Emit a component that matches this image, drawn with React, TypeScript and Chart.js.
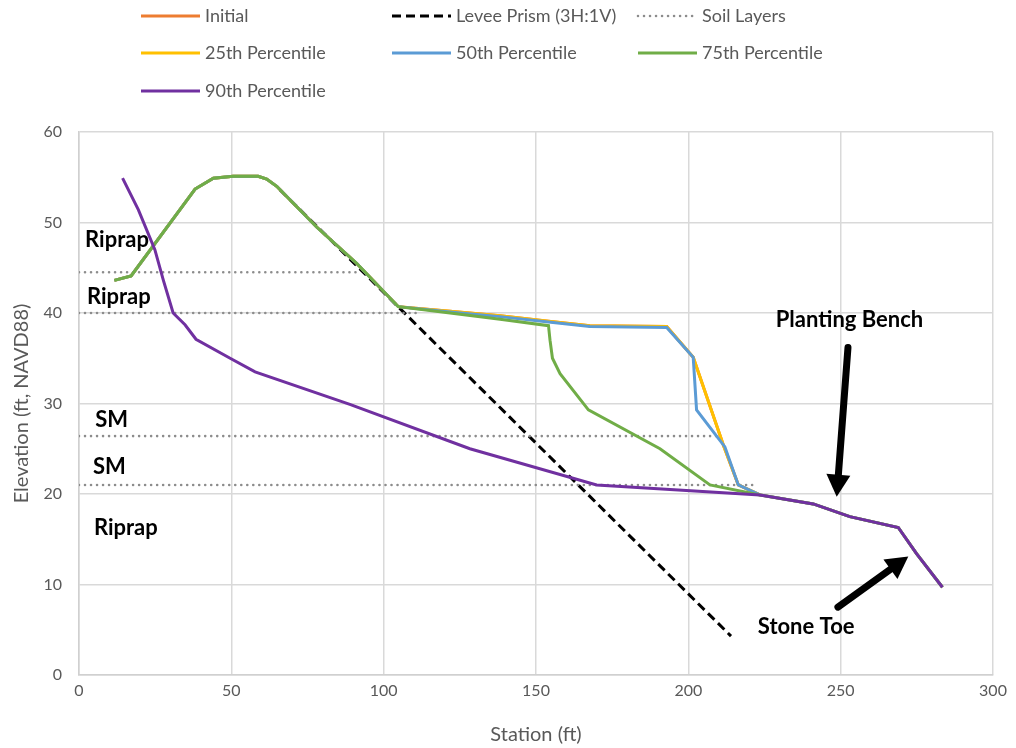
import React, { useEffect, useRef } from "react";
import { Chart, registerables } from "chart.js";

Chart.register(...registerables);

// ---------- Data ----------
const initialStation = [11.6, 17.1, 38.1, 44.1, 50.6, 58.8, 61.6, 64.9, 78.0, 91.1, 104.8, 121.8, 138.2, 154.1, 167.7, 192.9, 201.6, 211.6, 216.4, 223.5];
const initialElev = [43.6, 44.1, 53.7, 54.9, 55.1, 55.1, 54.8, 54.0, 49.5, 45.5, 40.7, 40.2, 39.7, 39.1, 38.6, 38.5, 35.1, 25.3, 21.0, 19.9];

const leveeStation = [66.0, 214.0];
const leveeElev = [53.6, 4.3];

const soilStartStation = [0, 0, 0, 0];
const soilEndStation = [91.1, 110.8, 209.6, 221.3];
const soilElev = [44.5, 40.0, 26.4, 21.0];

const p25Station = [11.6, 17.1, 38.1, 44.1, 50.6, 58.8, 61.6, 64.9, 78.0, 91.1, 104.8, 121.8, 138.2, 154.1, 167.7, 192.9, 201.6, 211.6, 216.4, 223.5, 241.0, 253.0, 268.9, 274.9, 283.4];
const p25Elev = [43.6, 44.1, 53.7, 54.9, 55.1, 55.1, 54.8, 54.0, 49.5, 45.5, 40.7, 40.2, 39.7, 39.1, 38.6, 38.5, 35.1, 25.3, 21.0, 19.9, 18.9, 17.5, 16.3, 13.4, 9.7];

const p50Station = [11.6, 17.1, 38.1, 44.1, 50.6, 58.8, 61.6, 64.9, 78.0, 91.1, 104.8, 121.8, 138.2, 154.1, 167.7, 192.9, 201.6, 202.7, 212.0, 216.4, 223.5, 241.0, 253.0, 268.9, 274.9, 283.4];
const p50Elev = [43.6, 44.1, 53.7, 54.9, 55.1, 55.1, 54.8, 54.0, 49.5, 45.5, 40.7, 40.1, 39.6, 39.0, 38.5, 38.4, 35.1, 29.3, 25.2, 21.0, 19.9, 18.9, 17.5, 16.3, 13.4, 9.7];

const p75Station = [11.6, 17.1, 38.1, 44.1, 50.6, 58.8, 61.6, 64.9, 78.0, 91.1, 104.8, 121.8, 138.2, 154.1, 154.6, 155.4, 157.9, 167.2, 190.7, 207.1, 223.5, 241.0, 253.0, 268.9, 274.9, 283.4];
const p75Elev = [43.6, 44.1, 53.7, 54.9, 55.1, 55.1, 54.8, 54.0, 49.5, 45.5, 40.7, 40.0, 39.3, 38.6, 37.0, 35.0, 33.3, 29.3, 25.0, 21.0, 19.9, 18.9, 17.5, 16.3, 13.4, 9.7];

const p90Station = [14.3, 19.5, 24.9, 27.7, 30.9, 34.8, 38.4, 49.6, 57.8, 88.9, 128.3, 169.9, 223.5, 241.0, 253.0, 268.9, 274.9, 283.4];
const p90Elev = [54.9, 51.4, 47.0, 43.6, 40.0, 38.7, 37.1, 35.0, 33.5, 29.9, 25.0, 21.0, 19.9, 18.9, 17.5, 16.3, 13.4, 9.7];

const seriesLabels = ["Initial", "Levee Prism (3H:1V)", "Soil Layers", "25th Percentile", "50th Percentile", "75th Percentile", "90th Percentile"];
const seriesColors = ["#ED7D31", "#000000", "#8C8C8C", "#FFC000", "#5B9BD5", "#70AD47", "#7030A0"];

const xTicks = [0, 50, 100, 150, 200, 250, 300];
const yTicks = [0, 10, 20, 30, 40, 50, 60];

// Text annotations (station, elevation)
const noteTexts = ["Riprap", "Riprap", "SM", "SM", "Riprap", "Planting Bench", "Stone Toe"];
const noteStation = [2.0, 2.6, 5.3, 4.6, 4.9, 228.7, 222.8];
const noteElev = [48.1, 41.8, 28.2, 23.0, 16.2, 39.2, 5.3];

// Arrows: tail -> tip (station, elevation)
const arrowTailStation = [252.4, 249.1];
const arrowTailElev = [36.2, 7.5];
const arrowTipStation = [248.7, 272.2];
const arrowTipElev = [19.7, 13.1];

const FONT = "Lato, 'Open Sans', sans-serif";
const TEXT_GRAY = "#595959";

const pts = (xs: number[], ys: number[]) => xs.map((x, i) => ({ x, y: ys[i] }));

function soilPoints() {
  const out: { x: number; y: number | null }[] = [];
  soilElev.forEach((e, i) => {
    out.push({ x: soilStartStation[i], y: e });
    out.push({ x: soilEndStation[i], y: e });
    out.push({ x: soilEndStation[i], y: null });
  });
  return out;
}

const legendPlugin = {
  id: "customLegend",
  afterDraw(chart: any) {
    const ctx = chart.ctx;
    const colX = [141, 392, 638];
    const rowY = [16, 53, 91];
    ctx.save();
    chart.data.datasets.forEach((ds: any, i: number) => {
      const col = i % 3;
      const row = Math.floor(i / 3);
      const x = colX[col];
      const y = rowY[row];
      ctx.beginPath();
      ctx.strokeStyle = ds.borderColor;
      ctx.lineWidth = ds.borderWidth;
      ctx.lineCap = ds.borderCapStyle || "butt";
      ctx.setLineDash(ds.borderDash || []);
      ctx.moveTo(x, y);
      ctx.lineTo(x + 59, y);
      ctx.stroke();
      ctx.setLineDash([]);
      ctx.fillStyle = TEXT_GRAY;
      ctx.font = `18px ${FONT}`;
      ctx.textBaseline = "middle";
      ctx.textAlign = "left";
      ctx.fillText(ds.label, x + 64, y);
    });
    ctx.restore();
  },
};

function drawArrow(ctx: CanvasRenderingContext2D, x1: number, y1: number, x2: number, y2: number) {
  const dx = x2 - x1;
  const dy = y2 - y1;
  const len = Math.hypot(dx, dy);
  const ux = dx / len;
  const uy = dy / len;
  const headLen = 22;
  const headHalf = 12;
  const bx = x2 - ux * headLen;
  const by = y2 - uy * headLen;
  ctx.beginPath();
  ctx.strokeStyle = "#000";
  ctx.lineWidth = 7;
  ctx.lineCap = "round";
  ctx.moveTo(x1, y1);
  ctx.lineTo(bx + ux * 2, by + uy * 2);
  ctx.stroke();
  ctx.beginPath();
  ctx.fillStyle = "#000";
  ctx.moveTo(x2, y2);
  ctx.lineTo(bx - uy * headHalf, by + ux * headHalf);
  ctx.lineTo(bx + uy * headHalf, by - ux * headHalf);
  ctx.closePath();
  ctx.fill();
}

const annotationPlugin = {
  id: "notes",
  afterDatasetsDraw(chart: any) {
    const ctx = chart.ctx;
    const xs = chart.scales.x;
    const ys = chart.scales.y;
    ctx.save();
    ctx.fillStyle = "#000";
    ctx.font = `bold 22px ${FONT}`;
    ctx.textBaseline = "middle";
    ctx.textAlign = "left";
    noteTexts.forEach((t, i) => {
      ctx.fillText(t, xs.getPixelForValue(noteStation[i]), ys.getPixelForValue(noteElev[i]));
    });
    arrowTailStation.forEach((_, i) => {
      drawArrow(
        ctx,
        xs.getPixelForValue(arrowTailStation[i]),
        ys.getPixelForValue(arrowTailElev[i]),
        xs.getPixelForValue(arrowTipStation[i]),
        ys.getPixelForValue(arrowTipElev[i])
      );
    });
    ctx.restore();
  },
};

export default function App() {
  const ref = useRef<HTMLCanvasElement | null>(null);
  useEffect(() => {
    if (!ref.current) return;
    const common = { pointRadius: 0, pointHoverRadius: 0, tension: 0, fill: false, borderWidth: 3 };
    const chart = new Chart(ref.current, {
      type: "line",
      data: {
        datasets: [
          { ...common, label: seriesLabels[0], data: pts(initialStation, initialElev), borderColor: seriesColors[0], order: 7 },
          { ...common, label: seriesLabels[1], data: pts(leveeStation, leveeElev), borderColor: seriesColors[1], borderDash: [9, 5], order: 6 },
          { ...common, label: seriesLabels[2], data: soilPoints(), borderColor: seriesColors[2], borderDash: [0.01, 6], borderCapStyle: "round", borderWidth: 2.6, spanGaps: false, order: 5 },
          { ...common, label: seriesLabels[3], data: pts(p25Station, p25Elev), borderColor: seriesColors[3], order: 4 },
          { ...common, label: seriesLabels[4], data: pts(p50Station, p50Elev), borderColor: seriesColors[4], order: 3 },
          { ...common, label: seriesLabels[5], data: pts(p75Station, p75Elev), borderColor: seriesColors[5], order: 2 },
          { ...common, label: seriesLabels[6], data: pts(p90Station, p90Elev), borderColor: seriesColors[6], order: 1 },
        ] as any,
      },
      options: {
        animation: false,
        responsive: false,
        devicePixelRatio: 1,
        layout: { padding: { top: 132, right: 23, left: 0, bottom: 0 } },
        plugins: { legend: { display: false }, tooltip: { enabled: false } },
        scales: {
          x: {
            type: "linear",
            min: 0,
            max: 300,
            afterBuildTicks: (s: any) => { s.ticks = xTicks.map((v) => ({ value: v })); },
            afterFit: (s: any) => { s.height = 73; },
            grid: { color: "#D9D9D9", lineWidth: 1.5, drawTicks: false },
            border: { color: "#D0D0D0", width: 1.5 },
            ticks: { color: TEXT_GRAY, font: { family: FONT, size: 16 }, padding: 6 },
            title: { display: true, text: "Station (ft)", color: TEXT_GRAY, font: { family: FONT, size: 20 }, padding: { top: 0, bottom: 1 } },
          },
          y: {
            type: "linear",
            min: 0,
            max: 60,
            afterBuildTicks: (s: any) => { s.ticks = yTicks.map((v) => ({ value: v })); },
            afterFit: (s: any) => { s.width = 79; },
            grid: { color: "#D9D9D9", lineWidth: 1.5, drawTicks: false },
            border: { color: "#D0D0D0", width: 1.5 },
            ticks: { color: TEXT_GRAY, font: { family: FONT, size: 16 }, padding: 17 },
            title: { display: true, text: "Elevation (ft, NAVD88)", color: TEXT_GRAY, font: { family: FONT, size: 20 }, padding: { top: 10, bottom: 0 } },
          },
        },
      } as any,
      plugins: [legendPlugin, annotationPlugin],
    });
    return () => chart.destroy();
  }, []);
  return (
    <div style={{ position: "absolute", left: 0, top: 0, width: 1016, height: 748, background: "#fff" }}>
      <canvas ref={ref} width={1016} height={748} style={{ width: 1016, height: 748, display: "block" }} />
    </div>
  );
}
